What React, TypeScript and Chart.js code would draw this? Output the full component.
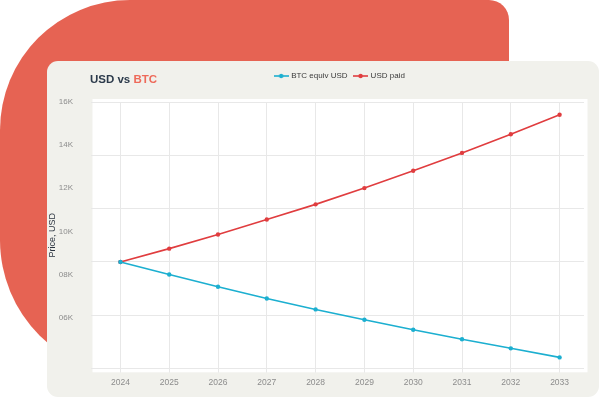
import React, { useEffect, useRef } from 'react';
import { Chart, registerables } from 'chart.js';

Chart.register(...registerables);

const years = ['2024', '2025', '2026', '2027', '2028', '2029', '2030', '2031', '2032', '2033'];
const btcEquivUsd = [10000, 9530, 9070, 8630, 8220, 7830, 7460, 7100, 6760, 6420];
const usdPaid = [10000, 10500, 11030, 11590, 12160, 12770, 13420, 14090, 14790, 15520];
const seriesLabels = ['BTC equiv USD', 'USD paid'];

const gridMin = 6000;
const gridMax = 16000;
const gridStep = 2000;

const yTickValues = [6000, 8000, 10000, 12000, 14000, 16000];
const yTickLabels = ['06K', '08K', '10K', '12K', '14K', '16K'];
const labelAxisMin = 3640;
const labelAxisMax = 16000;

const titleMain = 'USD vs ';
const titleAccent = 'BTC';
const axisTitle = 'Price, USD';

const FONT = "'Liberation Sans', Arial, sans-serif";
const CYAN = '#1cafd0';
const RED = '#e03d3f';
const CORAL = '#e66353';
const GRID = '#e8e8e8';

function makeIcon(color: string): HTMLCanvasElement {
  const c = document.createElement('canvas');
  c.width = 15;
  c.height = 6;
  const g = c.getContext('2d')!;
  g.strokeStyle = color;
  g.lineWidth = 1.6;
  g.beginPath();
  g.moveTo(0, 3);
  g.lineTo(15, 3);
  g.stroke();
  g.fillStyle = color;
  g.beginPath();
  g.arc(7.5, 3, 2.2, 0, Math.PI * 2);
  g.fill();
  return c;
}

const plotBackground = {
  id: 'plotBackground',
  beforeDraw(chart: any) {
    const { left, top, width, height } = chart.chartArea;
    const ctx = chart.ctx;
    ctx.save();
    ctx.fillStyle = '#ffffff';
    ctx.fillRect(left - 3.5, top - 3, width + 7, height + 6.7);
    ctx.restore();
  },
};

const twoToneTitle = {
  id: 'twoToneTitle',
  afterDraw(chart: any) {
    const ctx = chart.ctx;
    const { left } = chart.chartArea;
    ctx.save();
    ctx.font = `bold 11.5px ${FONT}`;
    ctx.textBaseline = 'middle';
    ctx.textAlign = 'left';
    let x = left - 6;
    const y = 18;
    ctx.fillStyle = '#2c3a4b';
    ctx.fillText(titleMain, x, y);
    x += ctx.measureText(titleMain).width;
    ctx.fillStyle = '#ee6a5a';
    ctx.fillText(titleAccent, x, y);
    ctx.restore();
  },
};

function ChartPanel() {
  const ref = useRef<HTMLCanvasElement | null>(null);
  useEffect(() => {
    if (!ref.current) return;
    const icons = [makeIcon(CYAN), makeIcon(RED)];
    const chart = new Chart(ref.current, {
      type: 'line',
      data: {
        labels: years,
        datasets: [
          {
            label: seriesLabels[0],
            data: btcEquivUsd,
            borderColor: CYAN,
            backgroundColor: CYAN,
            borderWidth: 1.6,
            pointRadius: 2.2,
            pointBorderWidth: 0,
            pointBackgroundColor: CYAN,
            tension: 0,
          },
          {
            label: seriesLabels[1],
            data: usdPaid,
            borderColor: RED,
            backgroundColor: RED,
            borderWidth: 1.6,
            pointRadius: 2.2,
            pointBorderWidth: 0,
            pointBackgroundColor: RED,
            tension: 0,
          },
        ],
      },
      options: {
        responsive: false,
        maintainAspectRatio: false,
        animation: false,
        layout: { padding: { top: 3, right: 15, bottom: 4.2, left: 0 } },
        plugins: {
          legend: {
            display: true,
            position: 'top',
            fullSize: false,
            labels: {
              usePointStyle: true,
              pointStyleWidth: 12,
              padding: 7,
              color: '#3a3a3a',
              font: { family: FONT, size: 8 },
              generateLabels: (c: any) =>
                c.data.datasets.map((ds: any, i: number) => ({
                  text: ds.label,
                  fillStyle: ds.borderColor,
                  strokeStyle: ds.borderColor,
                  lineWidth: 0,
                  pointStyle: icons[i],
                  hidden: false,
                  datasetIndex: i,
                  fontColor: '#3a3a3a',
                })),
            },
          },
          title: {
            display: true,
            text: '',
            weight: 0,
            fullSize: false,
            padding: 0,
            font: { size: 10, lineHeight: 1.2 },
          },
          tooltip: { enabled: false },
        },
        scales: {
          x: {
            type: 'category',
            offset: true,
            grid: { display: true, color: GRID, tickLength: 4, offset: false, lineWidth: 1 },
            border: { display: false },
            ticks: { color: '#8c8c8c', padding: 5, font: { family: FONT, size: 8.5 }, maxRotation: 0 },
          },
          y: {
            type: 'linear',
            position: 'left',
            weight: 0,
            min: gridMin,
            max: gridMax,
            ticks: { display: false, stepSize: gridStep },
            grid: { display: true, color: GRID, tickLength: 5, lineWidth: 1 },
            border: { display: false },
          },
          yLabel: {
            type: 'linear',
            position: 'left',
            weight: 1,
            min: labelAxisMin,
            max: labelAxisMax,
            grid: { display: false },
            border: { display: false },
            afterBuildTicks: (scale: any) => {
              scale.ticks = yTickValues.map((v) => ({ value: v }));
            },
            afterFit: (scale: any) => {
              scale.width = 44;
            },
            ticks: {
              color: '#8c8c8c',
              padding: 10,
              font: { family: FONT, size: 8 },
              callback: (value: any) => {
                const i = yTickValues.indexOf(Number(value));
                return i >= 0 ? yTickLabels[i] : '';
              },
            },
            title: {
              display: true,
              text: axisTitle,
              color: '#2b3440',
              padding: 0,
              font: { family: FONT, size: 9, lineHeight: 1.2 },
            },
          },
        },
      } as any,
      plugins: [plotBackground, twoToneTitle],
    });
    return () => chart.destroy();
  }, []);

  return (
    <canvas
      ref={ref}
      width={552}
      height={335}
      style={{ position: 'absolute', left: 0, top: 1, width: 552, height: 335, display: 'block' }}
    />
  );
}

export default function App() {
  return (
    <div
      style={{
        position: 'absolute',
        left: 0,
        top: 0,
        width: 600,
        height: 399,
        overflow: 'hidden',
        background: '#ffffff',
      }}
    >
      <div
        style={{
          position: 'absolute',
          left: 0,
          top: 0,
          width: 509,
          height: 375,
          background: CORAL,
          borderRadius: '130px 20px 0 135px',
        }}
      />
      <div
        style={{
          position: 'absolute',
          left: 47,
          top: 61,
          width: 552,
          height: 336,
          background: '#f1f1ec',
          borderRadius: 11,
        }}
      >
        <ChartPanel />
      </div>
    </div>
  );
}
